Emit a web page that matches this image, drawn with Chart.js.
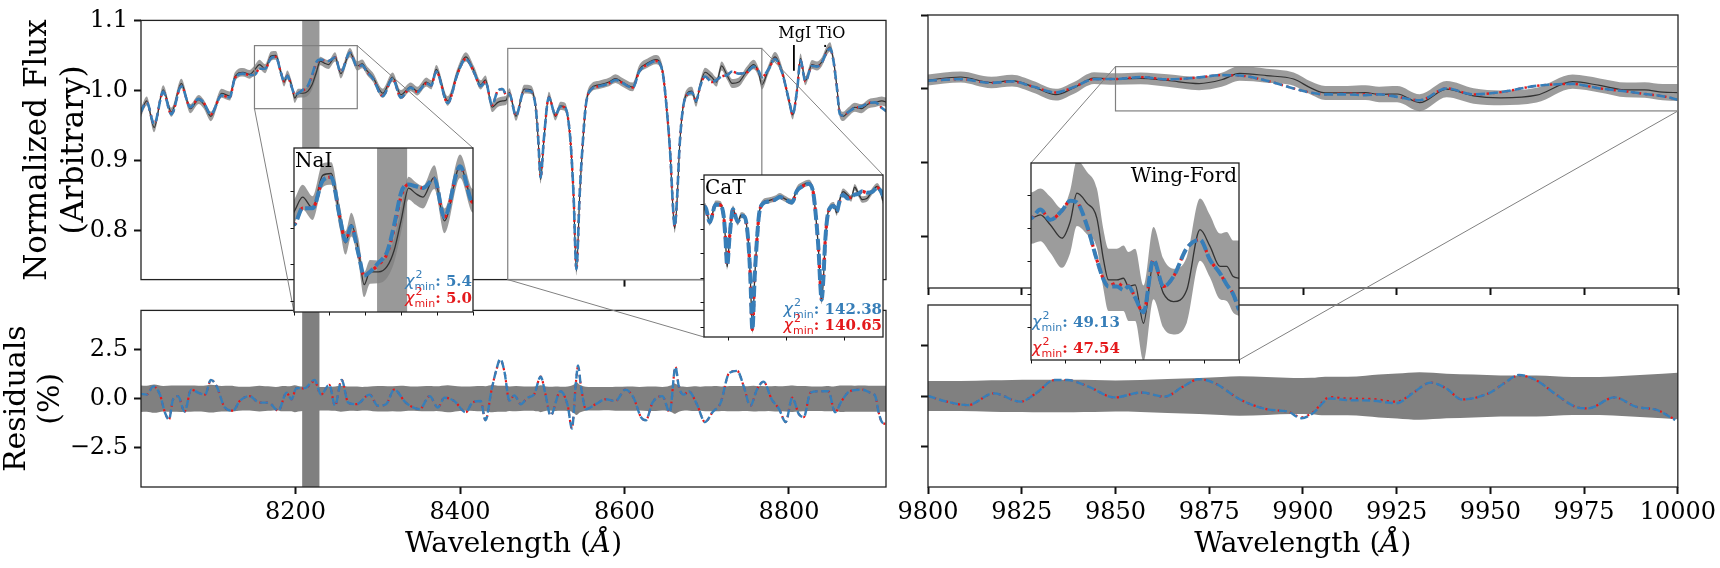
<!DOCTYPE html>
<html>
<head>
<meta charset="utf-8">
<script src="https://cdn.jsdelivr.net/npm/chart.js@4.4.1/dist/chart.umd.min.js"></script>
<style>
  html, body { margin: 0; padding: 0; background: #fff; }
  #fig { position: relative; width: 1720px; height: 568px; overflow: hidden; }
  .pane { position: absolute; }
  #ligacoes { position: absolute; left: 0; top: 0; z-index: 2; pointer-events: none; }
</style>
</head>
<body>
<div id="fig">
  <canvas id="ligacoes" width="1720" height="568"></canvas>
</div>
<script>
// ---------- dados: espectro 8010-8920 A ----------
const waveL = [
  8011, 8019, 8028, 8039, 8049, 8061, 8072, 8082, 8088, 8097,
  8110, 8120, 8126, 8136, 8144, 8150, 8156, 8163, 8170, 8176,
  8182, 8186, 8190, 8195, 8199, 8203, 8209, 8215, 8220, 8225,
  8230, 8235, 8240, 8248, 8255, 8266, 8275, 8281, 8287, 8294,
  8306, 8318, 8328, 8340, 8348, 8359, 8365, 8371, 8385, 8397,
  8407, 8417, 8425, 8431, 8439, 8446, 8452, 8456, 8460, 8468,
  8478, 8486, 8492, 8495, 8498, 8502, 8508, 8516, 8522, 8528,
  8534, 8538, 8541.5, 8545.5, 8549, 8553, 8559, 8569, 8581, 8589,
  8597, 8610, 8618, 8628, 8638, 8646, 8652, 8656, 8658.5, 8661,
  8664, 8667, 8671, 8676, 8682, 8687, 8692, 8698, 8706, 8712,
  8718, 8725, 8731, 8739, 8749, 8757, 8763, 8767, 8775, 8783,
  8792, 8800, 8804.5, 8810, 8814, 8820, 8828, 8834, 8840, 8846,
  8850, 8854, 8858, 8862, 8866, 8872, 8880, 8888, 8897, 8905,
  8913, 8919
];
const fluxL = [
  0.965, 0.985, 0.947, 1.001, 0.969, 1.010, 0.974, 0.987, 0.981, 0.963,
  0.996, 0.992, 1.019, 1.026, 1.023, 1.029, 1.037, 1.031, 1.049, 1.050,
  1.026, 1.012, 1.022, 1.008, 0.989, 0.996, 0.996, 0.999, 1.008, 1.025,
  1.042, 1.039, 1.037, 1.048, 1.024, 1.054, 1.035, 1.038, 1.028, 1.019,
  0.996, 1.019, 0.994, 1.005, 0.999, 1.012, 1.008, 1.030, 0.985, 1.026,
  1.048, 1.028, 1.008, 1.015, 0.976, 0.983, 0.985, 0.986, 0.997, 0.963,
  1.002, 1.001, 0.976, 0.930, 0.873, 0.930, 0.992, 0.963, 0.978, 0.976,
  0.930, 0.850, 0.742, 0.850, 0.920, 0.980, 1.003, 1.008, 1.012, 1.017,
  1.012, 1.005, 1.030, 1.039, 1.044, 1.030, 0.963, 0.900, 0.840, 0.803,
  0.845, 0.920, 0.975, 0.996, 0.999, 0.983, 1.008, 1.026, 1.019, 1.012,
  1.035, 1.021, 1.010, 1.012, 1.028, 1.037, 1.026, 1.008, 1.030, 1.048,
  1.026, 0.985, 0.965, 1.003, 1.046, 1.014, 1.037, 1.035, 1.041, 1.057,
  1.062, 1.044, 1.008, 0.967, 0.963, 0.969, 0.976, 0.974, 0.981, 0.983,
  0.985, 0.983
];
const errL = [
  0.0065, 0.0065, 0.0068, 0.0065, 0.0065, 0.0068, 0.0065, 0.0065, 0.0065, 0.0068,
  0.0065, 0.0065, 0.0065, 0.0062, 0.0062, 0.0065, 0.0068, 0.0065, 0.0065, 0.0062,
  0.0065, 0.0065, 0.0065, 0.0065, 0.0068, 0.0065, 0.0062, 0.0062, 0.0065, 0.0065,
  0.0062, 0.0062, 0.0062, 0.0065, 0.0068, 0.0065, 0.0065, 0.0062, 0.0062, 0.0065,
  0.0065, 0.0065, 0.0065, 0.0062, 0.0062, 0.0065, 0.0065, 0.0065, 0.0068, 0.0065,
  0.0065, 0.0065, 0.0065, 0.0065, 0.0068, 0.0065, 0.0065, 0.0065, 0.0062, 0.0062,
  0.0062, 0.0062, 0.0062, 0.0060, 0.0060, 0.0060, 0.0060, 0.0060, 0.0060, 0.0060,
  0.0060, 0.0060, 0.0062, 0.0060, 0.0060, 0.0060, 0.0060, 0.0060, 0.0060, 0.0062,
  0.0062, 0.0062, 0.0062, 0.0065, 0.0065, 0.0062, 0.0060, 0.0060, 0.0060, 0.0062,
  0.0060, 0.0060, 0.0060, 0.0060, 0.0062, 0.0062, 0.0062, 0.0065, 0.0065, 0.0065,
  0.0065, 0.0065, 0.0065, 0.0065, 0.0065, 0.0068, 0.0065, 0.0065, 0.0065, 0.0068,
  0.0065, 0.0065, 0.0065, 0.0065, 0.0068, 0.0065, 0.0065, 0.0065, 0.0065, 0.0068,
  0.0068, 0.0065, 0.0065, 0.0065, 0.0065, 0.0065, 0.0065, 0.0065, 0.0065, 0.0065,
  0.0065, 0.0065
];
const blueL = [
  0.968, 0.983, 0.952, 0.998, 0.966, 1.006, 0.976, 0.988, 0.983, 0.966,
  0.993, 0.990, 1.017, 1.024, 1.022, 1.022, 1.031, 1.031, 1.046, 1.048,
  1.026, 1.013, 1.021, 1.006, 0.994, 0.996, 1.001, 1.007, 1.022, 1.040,
  1.044, 1.043, 1.042, 1.047, 1.026, 1.054, 1.034, 1.036, 1.026, 1.017,
  0.992, 1.017, 0.990, 1.004, 0.998, 1.010, 1.007, 1.027, 0.982, 1.024,
  1.045, 1.026, 1.006, 1.012, 0.979, 1.000, 1.002, 0.994, 0.995, 0.964,
  1.000, 0.999, 0.976, 0.932, 0.876, 0.932, 0.990, 0.965, 0.977, 0.975,
  0.932, 0.852, 0.745, 0.852, 0.921, 0.979, 1.001, 1.006, 1.010, 1.015,
  1.011, 1.004, 1.027, 1.037, 1.042, 1.028, 0.965, 0.902, 0.843, 0.806,
  0.848, 0.921, 0.974, 0.994, 0.997, 0.985, 1.006, 1.020, 1.012, 1.015,
  1.020, 1.022, 1.027, 1.024, 1.026, 1.034, 1.028, 1.019, 1.030, 1.045,
  1.024, 0.986, 0.966, 1.002, 1.043, 1.013, 1.035, 1.034, 1.040, 1.055,
  1.060, 1.043, 1.007, 0.966, 0.964, 0.969, 0.975, 0.977, 0.982, 0.983,
  0.975, 0.970
];
const redL = [
  0.968, 0.983, 0.952, 0.998, 0.966, 1.006, 0.976, 0.988, 0.983, 0.966,
  0.993, 0.990, 1.017, 1.024, 1.022, 1.022, 1.031, 1.031, 1.046, 1.048,
  1.026, 1.013, 1.021, 1.006, 0.994, 0.996, 1.000, 1.006, 1.020, 1.038,
  1.044, 1.043, 1.042, 1.047, 1.026, 1.054, 1.034, 1.036, 1.026, 1.017,
  0.992, 1.017, 0.990, 1.004, 0.998, 1.010, 1.007, 1.027, 0.982, 1.024,
  1.045, 1.026, 1.006, 1.012, 0.979, 1.000, 1.002, 0.994, 0.995, 0.964,
  1.000, 0.999, 0.976, 0.932, 0.876, 0.932, 0.990, 0.965, 0.977, 0.975,
  0.932, 0.852, 0.745, 0.852, 0.921, 0.979, 1.001, 1.006, 1.010, 1.015,
  1.011, 1.004, 1.027, 1.037, 1.042, 1.028, 0.965, 0.902, 0.843, 0.806,
  0.848, 0.921, 0.974, 0.994, 0.997, 0.985, 1.006, 1.020, 1.012, 1.015,
  1.020, 1.022, 1.027, 1.024, 1.026, 1.034, 1.028, 1.019, 1.030, 1.045,
  1.024, 0.986, 0.966, 1.002, 1.043, 1.013, 1.035, 1.034, 1.040, 1.055,
  1.060, 1.043, 1.007, 0.966, 0.964, 0.969, 0.975, 0.977, 0.982, 0.983,
  0.975, 0.970
];

// residuos (%) 8010-8920 A
const resWaveL = [
  8011, 8019, 8027, 8035, 8041, 8046, 8051, 8057, 8065, 8073,
  8082, 8090, 8097, 8104, 8114, 8124, 8132, 8144, 8156, 8167,
  8179, 8189, 8195, 8201, 8211, 8223, 8231, 8241, 8248, 8256,
  8264, 8274, 8290, 8300, 8310, 8320, 8334, 8351, 8363, 8373,
  8381, 8393, 8407, 8415, 8425, 8431, 8438, 8444, 8449, 8454,
  8460, 8466, 8474, 8482, 8490, 8498, 8504, 8510, 8522, 8531,
  8536, 8541, 8543.5, 8547, 8553, 8565, 8577, 8589, 8601, 8611,
  8620, 8626, 8634, 8646, 8655, 8662, 8666, 8672, 8678, 8688,
  8698, 8707, 8717, 8727, 8737, 8745, 8753, 8761, 8769, 8779,
  8788, 8796, 8804, 8812, 8818, 8826, 8836, 8848, 8856, 8864,
  8874, 8889, 8899, 8905, 8909, 8913, 8919
];
const resBlueL = [
  0.25, 0.21, 0.63, 0.21, -0.69, -1.06, -0.03, 0.13, -0.66, 0.46,
  0.30, 0.21, 0.96, 0.63, -0.45, -0.61, -0.12, 0.13, -0.20, -0.20,
  -0.61, 0.30, -0.03, 0.54, 0.54, 0.96, 0.21, 0.71, -0.36, 0.96,
  -0.20, -0.28, 0.21, -0.36, -0.28, 0.46, -0.20, -0.53, 0.13, -0.45,
  0.05, -0.12, -0.69, -0.20, -0.12, -1.10, 0.38, 1.45, 2.03, 1.37,
  -0.10, 0.17, -0.28, 0.05, 0.21, 1.12, 0.21, -0.86, 0.38, -0.36,
  -1.52, 0.87, 1.70, 0.63, -0.53, -0.28, -0.03, -0.12, 0.46, 0.05,
  -0.94, -1.10, -0.20, 0.13, -0.69, 1.62, 0.63, 0.21, 0.38, -0.28,
  -1.19, -0.69, -0.20, 1.29, 1.42, 0.63, -0.36, 0.46, 0.87, -0.03,
  -0.53, -1.19, 0.05, -0.78, -0.94, 0.30, 0.38, 0.38, -0.69, -0.12,
  0.38, 0.46, 0.30, 0.13, -0.69, -1.19, -1.30
];
const resRedL = [
  0.25, 0.21, 0.63, 0.21, -0.69, -1.06, -0.03, 0.13, -0.66, 0.46,
  0.30, 0.21, 0.96, 0.63, -0.45, -0.61, -0.12, 0.13, -0.20, -0.20,
  -0.61, 0.30, -0.03, 0.54, 0.52, 0.90, 0.21, 0.71, -0.36, 0.96,
  -0.20, -0.28, 0.21, -0.36, -0.28, 0.46, -0.20, -0.53, 0.13, -0.45,
  0.05, -0.12, -0.69, -0.20, -0.12, -1.10, 0.38, 1.45, 1.98, 1.37,
  -0.10, 0.17, -0.28, 0.05, 0.21, 1.12, 0.21, -0.86, 0.38, -0.36,
  -1.52, 0.87, 1.65, 0.63, -0.53, -0.28, -0.03, -0.12, 0.46, 0.05,
  -0.94, -1.10, -0.20, 0.13, -0.69, 1.62, 0.63, 0.21, 0.38, -0.28,
  -1.19, -0.69, -0.20, 1.29, 1.42, 0.63, -0.36, 0.46, 0.87, -0.03,
  -0.53, -1.19, 0.05, -0.78, -0.94, 0.30, 0.38, 0.38, -0.69, -0.12,
  0.38, 0.46, 0.30, 0.13, -0.69, -1.19, -1.30
];

// ---------- dados: espectro 9800-10000 A ----------
const waveR = [
  9800, 9808.7, 9816.9, 9822.4, 9827.9, 9834.1, 9838.8, 9844.3, 9850, 9856.7,
  9863.9, 9872.3, 9878.3, 9883.1, 9890.3, 9897.5, 9902.3, 9905.9, 9911.9, 9916.7,
  9920.3, 9925.1, 9931.1, 9938.3, 9945.5, 9952.7, 9962.3, 9971.9, 9979.1, 9986.3,
  9991.1, 9995.9, 10000
];
const fluxR = [
  1.012, 1.016, 1.0085, 1.011, 1.003, 0.992, 1.001, 1.0145, 1.0132, 1.0142,
  1.0112, 1.0071, 1.0122, 1.0208, 1.0178, 1.0132, 1.0005, 0.9944, 0.9944, 0.9949,
  0.9924, 0.9929, 0.9812, 0.9995, 0.9903, 0.9878, 0.9913, 1.0097, 1.0046, 0.9985,
  0.9985, 0.9954, 0.9949
];
const errR = [
  0.0075, 0.0075, 0.0078, 0.008, 0.008, 0.008, 0.008, 0.008, 0.0078, 0.008,
  0.0085, 0.009, 0.0095, 0.010, 0.0095, 0.009, 0.009, 0.0095, 0.0095, 0.010,
  0.0105, 0.011, 0.0115, 0.011, 0.0105, 0.010, 0.010, 0.0095, 0.0095, 0.010,
  0.0105, 0.011, 0.0115
];
const blueR = [
  1.011, 1.013, 1.008, 1.010, 1.003, 0.995, 1.002, 1.013, 1.0132, 1.0158,
  1.0127, 1.0155, 1.0185, 1.018, 1.011, 1.0005, 0.9945, 0.9924, 0.9924, 0.9913,
  0.9924, 0.989, 0.9845, 1.0005, 0.9924, 0.9954, 1.004, 1.0066, 1.0005, 0.9964,
  0.993, 0.990, 0.9852
];
const redR = [
  1.011, 1.013, 1.008, 1.010, 1.003, 0.995, 1.002, 1.013, 1.0132, 1.0158,
  1.0127, 1.0155, 1.0185, 1.018, 1.011, 1.0005, 0.9945, 0.9926, 0.9935, 0.9925,
  0.9926, 0.989, 0.9845, 1.0005, 0.9924, 0.9954, 1.004, 1.0066, 1.0005, 0.9964,
  0.993, 0.990, 0.9852
];
const resWaveR = [
  9800, 9805, 9810.6, 9817.6, 9824.6, 9828.8, 9833.7, 9837.2, 9842.8, 9849.8,
  9856.8, 9863.1, 9868, 9872.3, 9876.5, 9883.5, 9890.5, 9896.1, 9899.6, 9902.4,
  9907.3, 9911.5, 9918.5, 9924.9, 9929.8, 9934, 9938.2, 9942.4, 9949.5, 9953.7,
  9957.6, 9962.1, 9967.7, 9972.6, 9976.1, 9983.1, 9988.8, 9994.4, 9999.3
];
const resBlueR = [
  0, -0.28, -0.45, 0.13, -0.28, 0.13, 0.79, 0.79, 0.46, -0.07,
  0.17, -0.03, 0.46, 0.83, 0.63, -0.20, -0.66, -0.78, -1.10, -0.89,
  -0.12, -0.20, -0.23, -0.36, 0.21, 0.66, 0.38, -0.17, 0.13, 0.63,
  1.04, 0.79, 0.05, -0.53, -0.61, -0.07, -0.53, -0.69, -1.19
];
const resRedR = [
  0, -0.28, -0.45, 0.13, -0.28, 0.13, 0.79, 0.79, 0.46, -0.07,
  0.17, -0.03, 0.46, 0.83, 0.63, -0.20, -0.66, -0.78, -1.05, -0.85,
  -0.05, -0.12, -0.15, -0.28, 0.21, 0.66, 0.38, -0.17, 0.13, 0.63,
  1.02, 0.79, 0.05, -0.53, -0.61, -0.07, -0.53, -0.69, -1.17
];

// regioes mascaradas, ticks e rotulos
const maskStart = [8208];
const maskEnd = [8229];
const xTicksL = [8200, 8400, 8600, 8800];
const xTicksR = [9800, 9825, 9850, 9875, 9900, 9925, 9950, 9975, 10000];
const yTicksFlux = [0.8, 0.9, 1.0, 1.1];
const yTicksRes = [-2.5, 0, 2.5];

const lineNames = ['MgI', 'TiO'];
const lineWaves = [8806, 8844];
const lineLabelWaves = [8807, 8851];
const lineLabelY = [1.0743, 1.0743];
const lineTops = [1.065, 1.065];
const lineBottoms = [1.028, 1.062];

const insetNames = ['NaI', 'CaT', 'Wing-Ford'];
const insetXRanges = [[8150, 8275], [8458, 8767], [9850, 10000]];
const insetYRanges = [[0.974, 1.064], [0.73, 1.06], [0.97, 1.03]];
const insetXTicks = [
  [8150, 8175, 8200, 8225, 8250, 8275],
  [8500, 8600, 8700],
  [9850, 9875, 9900, 9925, 9950, 9975, 10000]
];
const insetYTicks = [
  [0.98, 1.0, 1.02, 1.04],
  [0.75, 0.8, 0.85, 0.9, 0.95, 1.0, 1.05],
  [0.98, 0.99, 1.0, 1.01, 1.02]
];
const chiBlue = ['5.4', '142.38', '49.13'];
const chiRed = ['5.0', '140.65', '47.54'];

// ---------- estilo ----------
const SERIF = '"DejaVu Serif", serif';
const BLUE = '#377eb8', RED = '#e41a1c', INK = '#222';
const BAND = 'rgba(128,128,128,0.78)';
const figura = document.getElementById('fig');

function painel(area, m, z) {
  const d = document.createElement('div');
  d.className = 'pane';
  d.style.left = (area.l - m.l) + 'px';
  d.style.top = (area.t - m.t) + 'px';
  d.style.width = (area.r - area.l + m.l + m.r) + 'px';
  d.style.height = (area.b - area.t + m.t + m.b) + 'px';
  d.style.zIndex = z;
  const c = document.createElement('canvas');
  d.appendChild(c);
  figura.appendChild(d);
  return c;
}

function eixo(min, max, ticks, o) {
  return {
    type: 'linear', min, max,
    afterBuildTicks: s => { s.ticks = ticks.map(v => ({ value: v })); },
    afterFit: s => { if (o.horiz) s.height = o.dim; else s.width = o.dim; },
    grid: { drawOnChartArea: false, drawTicks: true, tickLength: o.tl, tickWidth: o.tw, tickColor: '#111' },
    border: { display: false },
    ticks: {
      display: !!o.fmt, callback: o.fmt || (() => ''),
      font: { family: SERIF, size: 24 }, color: '#000', padding: o.pad || 5,
      autoSkip: false, maxRotation: 0, minRotation: 0
    },
    title: o.title || { display: false }
  };
}

const serie = (wave, vals) => wave.map((x, i) => ({ x, y: vals[i] }));

function linha(wave, vals, cor, w, dash, order) {
  return { data: serie(wave, vals), borderColor: cor, borderWidth: w, borderDash: dash, fill: false, order };
}
function faixa(wave, hi, lo, cor) {
  return [
    { data: serie(wave, hi), borderColor: 'rgba(0,0,0,0)', borderWidth: 0, backgroundColor: cor, fill: '+1', order: 8 },
    { data: serie(wave, lo), borderColor: 'rgba(0,0,0,0)', borderWidth: 0, fill: false, order: 9 }
  ];
}
function fluxo(wave, flux, err, blue, red, st) {
  const hi = flux.map((f, i) => f + err[i]);
  const lo = flux.map((f, i) => f - err[i]);
  return [
    linha(wave, blue, BLUE, st.bw, st.bd, 0),
    linha(wave, red, RED, st.rw, st.rd, 1),
    linha(wave, flux, '#333', st.kw, [], 2),
    ...faixa(wave, hi, lo, BAND)
  ];
}
function residuo(wave, flux, err, rw, rb, rr) {
  const hi = flux.map((f, i) => 100 * err[i] / f);
  const lo = hi.map(v => -v);
  return [
    linha(rw, rb, BLUE, 2.4, [8, 3.5], 0),
    linha(rw, rr, RED, 2.2, [2.2, 4], 1),
    ...faixa(wave, hi, lo, '#808080')
  ];
}

// ---------- plugins ----------
const moldura = {
  id: 'moldura',
  afterDatasetsDraw(chart) {
    const { ctx, chartArea: a } = chart;
    ctx.save();
    ctx.strokeStyle = INK; ctx.lineWidth = 1.3;
    ctx.strokeRect(a.left, a.top, a.right - a.left, a.bottom - a.top);
    ctx.restore();
  }
};
const fundo = {
  id: 'fundo',
  beforeDraw(chart) {
    const { ctx, chartArea: a } = chart;
    ctx.save(); ctx.fillStyle = '#fff';
    ctx.fillRect(a.left, a.top, a.right - a.left, a.bottom - a.top);
    ctx.restore();
  }
};
function mascara(cor) {
  return {
    id: 'mascara',
    beforeDatasetsDraw(chart) {
      const { ctx, chartArea: a, scales: { x } } = chart;
      ctx.save();
      ctx.beginPath(); ctx.rect(a.left, a.top, a.right - a.left, a.bottom - a.top); ctx.clip();
      ctx.fillStyle = cor;
      maskStart.forEach((s, i) => {
        const x0 = x.getPixelForValue(s), x1 = x.getPixelForValue(maskEnd[i]);
        ctx.fillRect(x0, a.top, x1 - x0, a.bottom - a.top);
      });
      ctx.restore();
    }
  };
}
const marcas = {
  id: 'marcas',
  afterDatasetsDraw(chart) {
    const { ctx, scales: { x, y } } = chart;
    ctx.save();
    ctx.strokeStyle = '#000'; ctx.fillStyle = '#000'; ctx.lineWidth = 1.8;
    ctx.font = '16px ' + SERIF; ctx.textAlign = 'center'; ctx.textBaseline = 'alphabetic';
    lineNames.forEach((nome, i) => {
      const px = x.getPixelForValue(lineWaves[i]);
      ctx.beginPath();
      ctx.moveTo(px, y.getPixelForValue(lineTops[i]));
      ctx.lineTo(px, y.getPixelForValue(lineBottoms[i]));
      ctx.stroke();
      ctx.fillText(nome, x.getPixelForValue(lineLabelWaves[i]), y.getPixelForValue(lineLabelY[i]));
    });
    ctx.restore();
  }
};
// titulo do eixo x com o A em italico, como no original
const tituloX = {
  id: 'tituloX',
  afterDraw(chart) {
    const { ctx, chartArea: a } = chart;
    const partes = [['Wavelength (', ''], ['\u00c5', 'italic '], [')', '']];
    ctx.save();
    ctx.fillStyle = '#000'; ctx.textBaseline = 'middle'; ctx.textAlign = 'left';
    const larg = partes.map(([t, st]) => { ctx.font = st + '28px ' + SERIF; return ctx.measureText(t).width; });
    let x = (a.left + a.right) / 2 - larg.reduce((s, v) => s + v, 0) / 2;
    const y = chart.height - 23;
    partes.forEach(([t, st], i) => { ctx.font = st + '28px ' + SERIF; ctx.fillText(t, x, y); x += larg[i]; });
    ctx.restore();
  }
};

function chi(ctx, x, y, val, cor, lado) {
  ctx.save();
  ctx.fillStyle = cor; ctx.textBaseline = 'alphabetic'; ctx.textAlign = 'left';
  const fChi = 'italic 16px "DejaVu Sans"', fSm = '11px "DejaVu Sans"', fVal = 'bold 15px ' + SERIF;
  const txt = ': ' + val;
  ctx.font = fChi; const wChi = ctx.measureText('\u03c7').width;
  ctx.font = fSm; const wMin = ctx.measureText('min').width;
  ctx.font = fVal; const wVal = ctx.measureText(txt).width;
  let x0 = lado === 'right' ? x - (wChi + wMin + wVal) : x;
  ctx.font = fChi; ctx.fillText('\u03c7', x0, y);
  x0 += wChi;
  ctx.font = fSm; ctx.fillText('2', x0 + 1, y - 8); ctx.fillText('min', x0, y + 4);
  x0 += wMin;
  ctx.font = fVal; ctx.fillText(txt, x0, y);
  ctx.restore();
}

const nomeLado = ['left', 'left', 'right'];
const chiLado = ['right', 'right', 'left'];
const chiGap = [[26.5, 9], [23.5, 7], [33, 7.5]];
function rotulos(i) {
  return {
    id: 'rotulos',
    afterDraw(chart) {
      const { ctx, chartArea: a } = chart;
      ctx.save();
      ctx.fillStyle = '#000'; ctx.font = '20px ' + SERIF; ctx.textBaseline = 'alphabetic';
      const dir = nomeLado[i] === 'right';
      ctx.textAlign = dir ? 'right' : 'left';
      ctx.fillText(insetNames[i], dir ? a.right - 2 : a.left + 1, a.top + 19);
      ctx.restore();
      const xx = chiLado[i] === 'right' ? a.right - 1 : a.left + 1;
      chi(ctx, xx, a.bottom - chiGap[i][0], chiBlue[i], BLUE, chiLado[i]);
      chi(ctx, xx, a.bottom - chiGap[i][1], chiRed[i], RED, chiLado[i]);
    }
  };
}

function grafico(canvas, datasets, sx, sy, m, plugins) {
  return new Chart(canvas, {
    type: 'line',
    data: { datasets },
    options: {
      responsive: true, maintainAspectRatio: false, animation: false, events: [],
      layout: { padding: { top: m.t, right: m.r, left: 0, bottom: 0 } },
      plugins: { legend: { display: false }, tooltip: { enabled: false } },
      elements: { point: { radius: 0 }, line: { cubicInterpolationMode: 'monotone', borderCapStyle: 'butt' } },
      scales: { x: sx, y: sy }
    },
    plugins
  });
}

const fmt1 = v => v.toFixed(1);
const fmtRes = v => (v < 0 ? '\u2212' + (-v).toFixed(1) : v.toFixed(1));
const fmtInt = v => String(v);

const estMain = { bw: 2.6, bd: [9, 4], rw: 2.4, rd: [2.4, 4], kw: 1.2 };
const estInset = { bw: 4, bd: [11, 4], rw: 3.2, rd: [3.2, 5], kw: 1.3 };

// ---------- paineis principais ----------
const A = {
  tl: { l: 141, t: 15, r: 886, b: 288 }, mtl: { l: 141, t: 15, r: 8, b: 12 },
  bl: { l: 141, t: 305, r: 886, b: 487 }, mbl: { l: 141, t: 15, r: 8, b: 81 },
  tr: { l: 928, t: 15, r: 1678, b: 288 }, mtr: { l: 40, t: 15, r: 42, b: 12 },
  br: { l: 928, t: 305, r: 1678, b: 487 }, mbr: { l: 40, t: 15, r: 42, b: 81 }
};

const cTL = painel(A.tl, A.mtl, 1);
const chTL = grafico(cTL, fluxo(waveL, fluxL, errL, blueL, redL, estMain),
  eixo(8012, 8918, xTicksL, { horiz: true, dim: 12, tl: 7, tw: 2 }),
  eixo(0.73, 1.1, yTicksFlux, { dim: 141, tl: 7, tw: 2, fmt: fmt1, pad: 6,
    title: { display: true, text: ['Normalized Flux', '(Arbitrary)'], color: '#000',
      font: { family: SERIF, size: 31, lineHeight: '37px' }, padding: { top: 19.5, bottom: 0 } } }),
  A.mtl, [mascara('rgba(128,128,128,0.8)'), moldura, marcas]);

const cBL = painel(A.bl, A.mbl, 1);
const chBL = grafico(cBL, residuo(waveL, fluxL, errL, resWaveL, resBlueL, resRedL),
  eixo(8012, 8918, xTicksL, { horiz: true, dim: 81, tl: 7, tw: 2, fmt: fmtInt, pad: 4 }),
  eixo(-4.5, 4.5, yTicksRes, { dim: 141, tl: 7, tw: 2, fmt: fmtRes, pad: 6,
    title: { display: true, text: ['Residuals', '(%)'], color: '#000',
      font: { family: SERIF, size: 30, lineHeight: '33.6px' }, padding: { top: 0.5, bottom: 0 } } }),
  A.mbl, [mascara('#808080'), moldura, tituloX]);

const cTR = painel(A.tr, A.mtr, 1);
const chTR = grafico(cTR, fluxo(waveR, fluxR, errR, blueR, redR, estMain),
  eixo(9800, 10000, xTicksR, { horiz: true, dim: 12, tl: 7, tw: 2 }),
  eixo(0.73, 1.1, yTicksFlux, { dim: 40, tl: 7, tw: 2 }),
  A.mtr, [moldura]);

const cBR = painel(A.br, A.mbr, 1);
const chBR = grafico(cBR, residuo(waveR, fluxR, errR, resWaveR, resBlueR, resRedR),
  eixo(9800, 10000, xTicksR, { horiz: true, dim: 81, tl: 7, tw: 2, fmt: fmtInt, pad: 4 }),
  eixo(-4.5, 4.5, yTicksRes, { dim: 40, tl: 7, tw: 2 }),
  A.mbr, [moldura, tituloX]);

// ---------- insets ----------
const insetAreas = [
  { l: 294, t: 148, r: 473, b: 312 },
  { l: 704, t: 175, r: 883, b: 337 },
  { l: 1031, t: 163, r: 1239, b: 360 }
];
const mIn = { l: 6, t: 3, r: 3, b: 6 };
const fontes = [
  [waveL, fluxL, errL, blueL, redL],
  [waveL, fluxL, errL, blueL, redL],
  [waveR, fluxR, errR, blueR, redR]
];
const pais = [chTL, chTL, chTR];
const insets = insetAreas.map((area, i) => {
  const c = painel(area, mIn, 3);
  const [w, f, e, b, r] = fontes[i];
  const plugs = [fundo];
  if (i === 0) plugs.push(mascara('rgba(128,128,128,0.8)'));
  plugs.push(moldura, rotulos(i));
  return grafico(c, fluxo(w, f, e, b, r, estInset),
    eixo(insetXRanges[i][0], insetXRanges[i][1], insetXTicks[i], { horiz: true, dim: mIn.b, tl: 3.5, tw: 1 }),
    eixo(insetYRanges[i][0], insetYRanges[i][1], insetYTicks[i], { dim: mIn.l, tl: 3.5, tw: 1 }),
    mIn, plugs);
});

// ---------- caixas e linhas de ligacao ----------
const cantos = [
  [['l', 'b'], ['r', 't']],
  [['l', 'b'], ['r', 't']],
  [['l', 't'], ['r', 'b']]
];
function desenharLigacoes() {
  const ctx = document.getElementById('ligacoes').getContext('2d');
  ctx.strokeStyle = '#808080';
  insets.forEach((ins, i) => {
    const pai = pais[i];
    const pd = pai.canvas.parentNode, idv = ins.canvas.parentNode;
    const px = v => pd.offsetLeft + pai.scales.x.getPixelForValue(v);
    const py = v => pd.offsetTop + pai.scales.y.getPixelForValue(v);
    const [x0, x1] = insetXRanges[i], [y0, y1] = insetYRanges[i];
    ctx.lineWidth = 1.2;
    ctx.strokeRect(px(x0), py(y1), px(x1) - px(x0), py(y0) - py(y1));
    const a = ins.chartArea;
    ctx.lineWidth = 1;
    cantos[i].forEach(([cx, cy]) => {
      ctx.beginPath();
      ctx.moveTo(px(cx === 'l' ? x0 : x1), py(cy === 'b' ? y0 : y1));
      ctx.lineTo(idv.offsetLeft + (cx === 'l' ? a.left : a.right), idv.offsetTop + (cy === 'b' ? a.bottom : a.top));
      ctx.stroke();
    });
  });
}
desenharLigacoes();
</script>
</body>
</html>
